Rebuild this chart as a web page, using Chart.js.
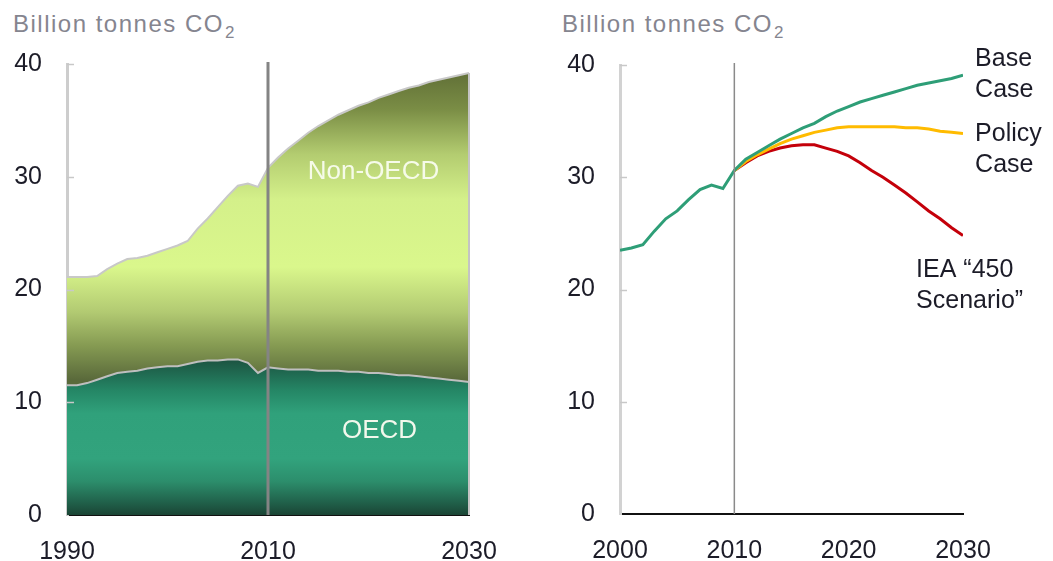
<!DOCTYPE html>
<html>
<head>
<meta charset="utf-8">
<script src="https://cdn.jsdelivr.net/npm/chart.js@4.4.1/dist/chart.umd.min.js"></script>
<style>
  html, body { margin: 0; padding: 0; background: #fff; }
  body { width: 1053px; height: 561px; position: relative; overflow: hidden; font-family: "Liberation Sans", Arial, sans-serif; }
  .unit { position: absolute; top: 12px; font-size: 24px; line-height: 24px; letter-spacing: 1.5px; color: #85858f; white-space: nowrap; }
  .unit span { font-size: 17px; position: relative; top: 6px; letter-spacing: 0; margin-left: 1px; }
  .box { position: absolute; top: 40px; height: 521px; }
</style>
</head>
<body>
<div class="unit" style="left:13px">Billion tonnes CO<span>2</span></div>
<div class="unit" style="left:562px">Billion tonnes CO<span>2</span></div>
<div class="box" style="left:0; width:520px"><canvas id="leftChart"></canvas></div>
<div class="box" style="left:530px; width:523px"><canvas id="rightChart"></canvas></div>
<script>
// Left panel: emissions by region, 1990-2030 (billion tonnes CO2)
const regionYears = [1990, 1991, 1992, 1993, 1994, 1995, 1996, 1997, 1998, 1999,
  2000, 2001, 2002, 2003, 2004, 2005, 2006, 2007, 2008, 2009,
  2010, 2011, 2012, 2013, 2014, 2015, 2016, 2017, 2018, 2019,
  2020, 2021, 2022, 2023, 2024, 2025, 2026, 2027, 2028, 2029, 2030];
const oecd = [11.5, 11.5, 11.7, 12.0, 12.3, 12.6, 12.7, 12.8, 13.0, 13.1,
  13.2, 13.2, 13.4, 13.6, 13.7, 13.7, 13.8, 13.8, 13.5, 12.6,
  13.1, 13.0, 12.9, 12.9, 12.9, 12.8, 12.8, 12.8, 12.7, 12.7,
  12.6, 12.6, 12.5, 12.4, 12.4, 12.3, 12.2, 12.1, 12.0, 11.9, 11.8];
// OECD + Non-OECD (top of the stack)
const worldTotal = [21.1, 21.1, 21.1, 21.2, 21.8, 22.3, 22.7, 22.8, 23.0, 23.3,
  23.6, 23.9, 24.3, 25.4, 26.3, 27.3, 28.3, 29.2, 29.4, 29.1,
  30.8, 31.7, 32.5, 33.2, 33.9, 34.5, 35.0, 35.5, 35.9, 36.3,
  36.6, 37.0, 37.3, 37.6, 37.9, 38.1, 38.4, 38.6, 38.8, 39.0, 39.2];

// Right panel: scenarios, 2000-2030
const caseYears = [2000, 2001, 2002, 2003, 2004, 2005, 2006, 2007, 2008, 2009,
  2010, 2011, 2012, 2013, 2014, 2015, 2016, 2017, 2018, 2019,
  2020, 2021, 2022, 2023, 2024, 2025, 2026, 2027, 2028, 2029, 2030];
const baseCase = [23.5, 23.7, 24.0, 25.2, 26.3, 27.0, 28.0, 28.9, 29.3, 29.0,
  30.6, 31.6, 32.2, 32.8, 33.4, 33.9, 34.4, 34.8, 35.4, 35.9,
  36.3, 36.7, 37.0, 37.3, 37.6, 37.9, 38.2, 38.4, 38.6, 38.8, 39.1];
const scenarioYears = [2010, 2011, 2012, 2013, 2014, 2015, 2016, 2017, 2018, 2019,
  2020, 2021, 2022, 2023, 2024, 2025, 2026, 2027, 2028, 2029, 2030];
const policyCase = [30.6, 31.4, 32.0, 32.5, 33.0, 33.4, 33.7, 34.0, 34.2, 34.4,
  34.5, 34.5, 34.5, 34.5, 34.5, 34.4, 34.4, 34.3, 34.1, 34.0, 33.9];
const iea450 = [30.6, 31.3, 31.9, 32.3, 32.6, 32.8, 32.9, 32.9, 32.6, 32.3,
  31.9, 31.3, 30.6, 30.0, 29.3, 28.6, 27.8, 27.0, 26.3, 25.5, 24.8];

const yTicks = [0, 10, 20, 30, 40];
const leftXTicks = [1990, 2010, 2030];
const rightXTicks = [2000, 2010, 2020, 2030];

const FONT = "'Liberation Sans', Arial, sans-serif";
const INK = '#1c1c28';

const toPoints = (xs, ys) => xs.map((x, i) => ({ x: x, y: ys[i] }));

function vGradient(stops) {
  return c => {
    const { ctx, chartArea, scales } = c.chart;
    if (!chartArea) return 'transparent';
    const top = scales.y.getPixelForValue(40);
    const bot = scales.y.getPixelForValue(0);
    const g = ctx.createLinearGradient(0, top, 0, bot);
    stops.forEach(([v, col]) => g.addColorStop((40 - v) / 40, col));
    return g;
  };
}

function yAxis(width, borderColor) {
  return {
    min: 0, max: 40, z: 1,
    afterBuildTicks: s => { s.ticks = yTicks.map(v => ({ value: v })); },
    afterFit: s => { s.width = width; s.paddingTop = 0; s.paddingBottom = 0; },
    grid: { display: false, drawTicks: false },
    border: { color: borderColor, width: 3 },
    ticks: { padding: 25, color: INK, font: { family: FONT, size: 25 } }
  };
}

function xAxis(min, max, tickList, height) {
  return {
    type: 'linear', min: min, max: max, z: 1,
    afterBuildTicks: s => { s.ticks = tickList.map(v => ({ value: v })); },
    afterFit: s => { s.height = height; },
    grid: { display: false, drawTicks: false },
    border: { color: '#111', width: 2 },
    ticks: {
      padding: 22, color: INK, maxRotation: 0, autoSkip: false,
      font: { family: FONT, size: 25 },
      callback: v => String(v)
    }
  };
}

// divider at 2010, small inner ticks and the text labels
const marks = {
  id: 'marks',
  afterDatasetsDraw(chart, args, opts) {
    const { ctx, chartArea, scales: { x, y } } = chart;
    ctx.save();
    ctx.strokeStyle = '#c8c8c8';
    ctx.lineWidth = 1.5;
    yTicks.forEach(v => {
      if (v === 0) return;
      const py = Math.round(y.getPixelForValue(v)) + 0.5;
      ctx.beginPath();
      ctx.moveTo(chartArea.left, py);
      ctx.lineTo(chartArea.left + 7, py);
      ctx.stroke();
    });
    if (opts.edgeValue != null) {
      ctx.strokeStyle = '#c4c4c4';
      ctx.lineWidth = 2;
      ctx.beginPath();
      ctx.moveTo(chartArea.right, y.getPixelForValue(opts.edgeValue));
      ctx.lineTo(chartArea.right, chartArea.bottom);
      ctx.stroke();
    }
    const px = x.getPixelForValue(opts.divider);
    ctx.strokeStyle = opts.dividerColor;
    ctx.lineWidth = opts.dividerWidth;
    ctx.beginPath();
    ctx.moveTo(px, chartArea.top - 2);
    ctx.lineTo(px, chartArea.bottom);
    ctx.stroke();

    ctx.textBaseline = 'middle';
    opts.labels.forEach(l => {
      ctx.font = l.size + 'px ' + FONT;
      ctx.fillStyle = l.color;
      ctx.textAlign = l.align;
      const lx = x.getPixelForValue(l.x);
      const ly = y.getPixelForValue(l.y);
      l.lines.forEach((t, i) => ctx.fillText(t, lx, ly + i * 31));
    });
    ctx.restore();
  }
};

new Chart(document.getElementById('leftChart'), {
  type: 'line',
  data: {
    datasets: [{
      label: 'OECD',
      data: toPoints(regionYears, oecd),
      borderColor: '#bfbfbf',
      borderWidth: 2,
      backgroundColor: vGradient([[14, '#1b4f3e'], [11, '#258766'], [9, '#30a17b'], [5, '#32a37d'],
        [3, '#2c8e6c'], [1, '#205e48'], [0, '#1a4535']]),
      fill: 'origin',
      pointRadius: 0,
      tension: 0
    }, {
      label: 'Non-OECD',
      data: toPoints(regionYears, worldTotal),
      borderColor: '#c8c8c8',
      borderWidth: 2,
      backgroundColor: vGradient([[40, '#5b6934'], [36, '#7a8d45'], [32, '#b3cc70'], [28, '#d4f08a'],
        [22, '#daf78c'], [18, '#b2ca72'], [15, '#859a52'], [12, '#5a6a3b']]),
      fill: '-1',
      pointRadius: 0,
      tension: 0
    }]
  },
  options: {
    responsive: true,
    maintainAspectRatio: false,
    animation: false,
    layout: { padding: { top: 24, right: 51, left: 0, bottom: 0 } },
    scales: {
      x: xAxis(1990, 2030, leftXTicks, 46),
      y: yAxis(67, '#cdcdcd')
    },
    plugins: {
      legend: { display: false },
      tooltip: { enabled: false },
      marks: {
        divider: 2010, dividerColor: '#848484', dividerWidth: 3,
        edgeValue: worldTotal[worldTotal.length - 1],
        labels: [
          { lines: ['Non-OECD'], x: 2020.5, y: 30.4, align: 'center', size: 26, color: '#f6fbe9' },
          { lines: ['OECD'], x: 2021.1, y: 7.5, align: 'center', size: 26, color: '#f2f8ec' }
        ]
      }
    }
  },
  plugins: [marks]
});

new Chart(document.getElementById('rightChart'), {
  type: 'line',
  data: {
    datasets: [{
      label: 'Base Case',
      data: toPoints(caseYears, baseCase),
      borderColor: '#2e9e77',
      borderWidth: 3,
      pointRadius: 0,
      tension: 0
    }, {
      label: 'Policy Case',
      data: toPoints(scenarioYears, policyCase),
      borderColor: '#ffbb00',
      borderWidth: 3,
      pointRadius: 0,
      tension: 0
    }, {
      label: 'IEA "450 Scenario"',
      data: toPoints(scenarioYears, iea450),
      borderColor: '#c4000a',
      borderWidth: 3,
      pointRadius: 0,
      tension: 0
    }]
  },
  options: {
    responsive: true,
    maintainAspectRatio: false,
    animation: false,
    layout: { padding: { top: 25, right: 90, left: 0, bottom: 0 } },
    scales: {
      x: xAxis(2000, 2030, rightXTicks, 47),
      y: yAxis(90, '#d2d2d2')
    },
    plugins: {
      legend: { display: false },
      tooltip: { enabled: false },
      marks: {
        divider: 2010, dividerColor: '#8a8a8a', dividerWidth: 1.5,
        labels: [
          { lines: ['Base', 'Case'], x: 2031.06, y: 40.5, align: 'left', size: 25, color: INK },
          { lines: ['Policy', 'Case'], x: 2031.06, y: 33.8, align: 'left', size: 25, color: INK },
          { lines: ['IEA \u201c450', 'Scenario\u201d'], x: 2025.9, y: 21.7, align: 'left', size: 25, color: INK }
        ]
      }
    }
  },
  plugins: [marks]
});
</script>
</body>
</html>
